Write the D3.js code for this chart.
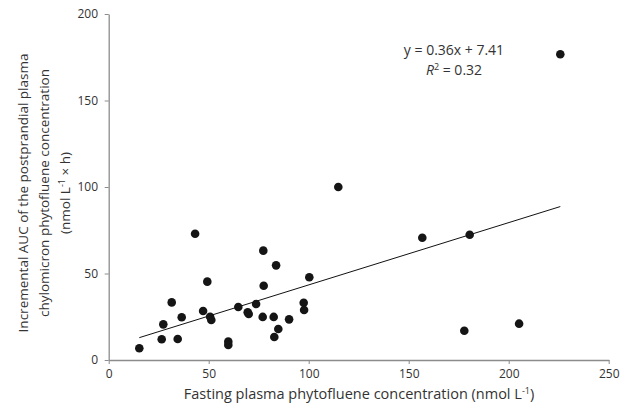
<!DOCTYPE html>
<html>
<head>
<meta charset="utf-8">
<script src="https://cdn.jsdelivr.net/npm/d3@7"></script>
<style>
  body { margin: 0; background: #fff; }
  text { font-family: "Open Sans", sans-serif; fill: #333; }
</style>
</head>
<body>
<div id="chart"></div>
<script>
// fasting plasma phytofluene (nmol/L) vs incremental AUC (nmol/L x h)
var fasting = [15.3, 26.5, 34.5, 27.3, 31.5, 36.5, 43.2, 49.3, 47.2, 50.7, 51.3,
               59.8, 59.8, 64.8, 69.5, 70.0, 73.7, 77.3, 83.7, 77.5, 77.0, 82.5,
               84.8, 82.8, 90.2, 97.5, 97.7, 100.3, 114.8, 156.8, 180.5, 177.8,
               205.2, 225.8];
var auc = [6.8, 12.0, 12.1, 20.6, 33.3, 24.7, 73.0, 45.3, 28.3, 25.0, 23.1,
           10.6, 8.7, 30.6, 27.6, 26.6, 32.4, 63.2, 54.7, 42.9, 24.9, 24.9,
           17.9, 13.3, 23.5, 33.1, 28.9, 47.8, 100.0, 70.7, 72.4, 16.9,
           21.0, 176.7];
var xTicks = [0, 50, 100, 150, 200, 250];
var yTicks = [0, 50, 100, 150, 200];
var slope = 0.36, intercept = 7.41;

var width = 629, height = 404;
var svg = d3.select("#chart").append("svg")
    .attr("width", width)
    .attr("height", height);

var x = d3.scaleLinear().domain([0, 250]).range([108.7, 608.7]);
var y = d3.scaleLinear().domain([0, 200]).range([360, 14]);

// axes
var xAxis = svg.append("g")
    .attr("transform", "translate(0," + y(0) + ")")
    .call(d3.axisBottom(x).tickValues(xTicks).tickSize(4).tickSizeOuter(0));
var yAxis = svg.append("g")
    .attr("transform", "translate(" + x(0) + ",0)")
    .call(d3.axisLeft(y).tickValues(yTicks).tickSize(4).tickSizeOuter(0));

[xAxis, yAxis].forEach(function(g) {
  g.select(".domain").attr("stroke", "#8c8c8c").attr("stroke-width", 1.3);
  g.selectAll(".tick line").attr("stroke", "#8c8c8c");
  g.selectAll(".tick text")
    .style("font-family", "'Open Sans', sans-serif")
    .style("font-size", "12px")
    .attr("fill", "#333");
});
xAxis.selectAll(".tick text").attr("dy", "0.92em");
yAxis.selectAll(".tick text").attr("dx", "-0.3em");

// regression line
var xr = d3.extent(fasting);
svg.append("line")
    .attr("x1", x(xr[0])).attr("y1", y(slope * xr[0] + intercept))
    .attr("x2", x(xr[1])).attr("y2", y(slope * xr[1] + intercept))
    .attr("stroke", "#111").attr("stroke-width", 1);

// points
svg.selectAll("circle.pt")
  .data(fasting)
  .enter().append("circle")
    .attr("class", "pt")
    .attr("cx", function(d) { return x(d); })
    .attr("cy", function(d, i) { return y(auc[i]); })
    .attr("r", 4.3)
    .attr("fill", "#151515");

// equation
svg.append("text")
    .attr("x", 454).attr("y", 55)
    .attr("text-anchor", "middle")
    .style("font-size", "14px")
    .text("y = 0.36x + 7.41");
var r2 = svg.append("text")
    .attr("x", 454).attr("y", 75)
    .attr("text-anchor", "middle")
    .style("font-size", "14px");
r2.append("tspan").style("font-style", "italic").text("R");
r2.append("tspan").attr("dy", -5).style("font-size", "9px").text("2");
r2.append("tspan").attr("dy", 5).text(" = 0.32");

// x title
var xt = svg.append("text")
    .attr("x", 359).attr("y", 399)
    .attr("text-anchor", "middle")
    .style("font-size", "14.5px")
    .text("Fasting plasma phytofluene concentration (nmol L");
xt.append("tspan").attr("dy", -5).style("font-size", "9px").text("-1");
xt.append("tspan").attr("dy", 5).text(")");

// y title
var yt = svg.append("g").attr("transform", "translate(0,193) rotate(-90)");
yt.append("text").attr("x", 0).attr("y", 28)
    .attr("text-anchor", "middle").style("font-size", "13.5px")
    .text("Incremental AUC of the postprandial plasma");
yt.append("text").attr("x", 0).attr("y", 49)
    .attr("text-anchor", "middle").style("font-size", "13.5px")
    .text("chylomicron phytofluene concentration");
var l3 = yt.append("text").attr("x", 0).attr("y", 70)
    .attr("text-anchor", "middle").style("font-size", "13.5px")
    .text("(nmol L");
l3.append("tspan").attr("dy", -5).style("font-size", "9px").text("-1");
l3.append("tspan").attr("dy", 5).text(" \u00d7 h)");
</script>
</body>
</html>
